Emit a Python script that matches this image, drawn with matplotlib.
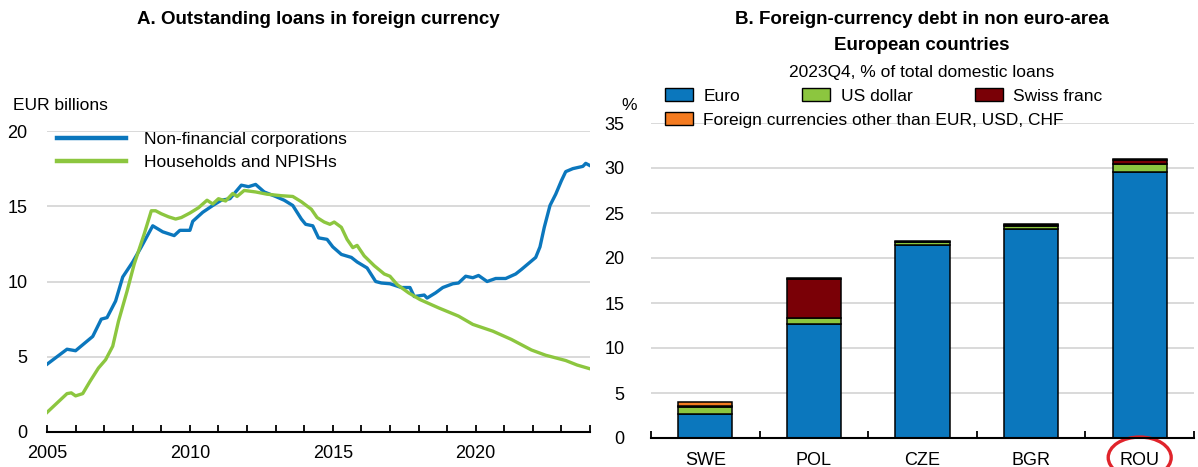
import matplotlib
matplotlib.use("Agg")
import matplotlib.pyplot as plt
import matplotlib.transforms as mtransforms
from matplotlib.lines import Line2D
from matplotlib.patches import Patch, Ellipse

plt.rcParams["font.family"] = ["Liberation Sans Narrow", "Liberation Sans", "DejaVu Sans"]

# Panel A: outstanding loans in foreign currency, EUR billions
nfc_years = [2005.0, 2005.7, 2006.0, 2006.6, 2006.9, 2007.1, 2007.4, 2007.65, 2008.0, 2008.3,
             2008.7, 2009.05, 2009.45, 2009.65, 2010.0, 2010.1, 2010.45, 2010.8, 2011.1, 2011.4,
             2011.8, 2012.05, 2012.3, 2012.6, 2013.0, 2013.3, 2013.6, 2013.9, 2014.05, 2014.3,
             2014.5, 2014.8, 2015.0, 2015.3, 2015.65, 2015.85, 2016.2, 2016.5, 2016.7, 2017.0,
             2017.4, 2017.7, 2017.85, 2018.2, 2018.3, 2018.6, 2018.85, 2019.2, 2019.4, 2019.65,
             2019.9, 2020.1, 2020.4, 2020.7, 2021.05, 2021.4, 2021.6, 2021.85, 2022.1, 2022.25,
             2022.4, 2022.6, 2022.8, 2023.0, 2023.15, 2023.4, 2023.75, 2023.85, 2024.0]
nfc_values = [4.5, 5.5, 5.4, 6.35, 7.5, 7.6, 8.7, 10.3, 11.3, 12.3,
              13.7, 13.3, 13.05, 13.4, 13.4, 14.0, 14.6, 15.05, 15.4, 15.5,
              16.4, 16.3, 16.45, 15.95, 15.65, 15.4, 15.05, 14.15, 13.8, 13.7,
              12.9, 12.8, 12.3, 11.8, 11.6, 11.3, 10.9, 10.0, 9.9, 9.85,
              9.6, 9.6, 9.0, 9.1, 8.9, 9.25, 9.6, 9.85, 9.9, 10.35,
              10.25, 10.4, 10.0, 10.2, 10.2, 10.5, 10.8, 11.2, 11.6, 12.3,
              13.6, 15.05, 15.8, 16.7, 17.3, 17.5, 17.65, 17.85, 17.7]

hh_years = [2005.0, 2005.7, 2005.85, 2006.0, 2006.25, 2006.5, 2006.8, 2007.05, 2007.3, 2007.5,
            2007.8, 2008.05, 2008.4, 2008.65, 2008.8, 2009.0, 2009.25, 2009.5, 2009.7, 2010.0,
            2010.3, 2010.6, 2010.8, 2011.0, 2011.25, 2011.5, 2011.65, 2011.9, 2012.3, 2012.7,
            2013.2, 2013.6, 2013.9, 2014.25, 2014.45, 2014.7, 2014.9, 2015.05, 2015.3, 2015.5,
            2015.7, 2015.85, 2016.1, 2016.45, 2016.8, 2017.0, 2017.25, 2017.65, 2018.05, 2018.7,
            2019.4, 2019.9, 2020.6, 2021.25, 2021.95, 2022.45, 2023.15, 2023.55, 2024.0]
hh_values = [1.3, 2.55, 2.6, 2.4, 2.55, 3.35, 4.25, 4.8, 5.7, 7.35,
             9.35, 11.15, 13.15, 14.7, 14.7, 14.5, 14.3, 14.15, 14.25, 14.55,
             14.9, 15.4, 15.15, 15.5, 15.35, 15.85, 15.65, 16.05, 15.95, 15.8,
             15.7, 15.65, 15.3, 14.8, 14.25, 13.95, 13.8, 13.95, 13.6, 12.8,
             12.25, 12.4, 11.7, 11.05, 10.5, 10.35, 9.8, 9.25, 8.8, 8.25,
             7.7, 7.15, 6.7, 6.15, 5.45, 5.1, 4.75, 4.45, 4.2]

# Panel B: foreign-currency debt, 2023Q4, % of total domestic loans
countries = ["SWE", "POL", "CZE", "BGR", "ROU"]
euro = [2.7, 12.7, 21.4, 23.2, 29.6]
usd = [0.8, 0.6, 0.35, 0.4, 0.8]
chf = [0.05, 4.4, 0.05, 0.1, 0.5]
other = [0.5, 0.1, 0.05, 0.05, 0.1]

BLUE = "#0B77BD"
GREEN = "#8CC63F"
DARKRED = "#7A0006"
ORANGE = "#F47B20"
GRID = "#D9D9D9"

W, H = 1198, 467
fig = plt.figure(figsize=(W / 100, H / 100), dpi=100)


def box(left, top, right, bottom):
    return [left / W, 1 - bottom / H, (right - left) / W, (bottom - top) / H]


def style_axes(ax):
    for side in ["left", "right", "top"]:
        ax.spines[side].set_visible(False)
    ax.spines["bottom"].set_linewidth(1.5)
    ax.spines["bottom"].set_color("black")
    ax.yaxis.grid(True, color=GRID, linewidth=1.4)
    ax.set_axisbelow(True)
    ax.tick_params(axis="y", length=0, labelsize=13)
    ax.tick_params(axis="x", which="both", direction="in", length=5, width=1.3, labelsize=13)


# ---- Panel A ----
ax1 = fig.add_axes(box(47, 131, 590, 432))
style_axes(ax1)
ax1.plot(nfc_years, nfc_values, color=BLUE, linewidth=2.4)
ax1.plot(hh_years, hh_values, color=GREEN, linewidth=2.4)
ax1.set_xlim(2005, 2024)
ax1.set_ylim(0, 20)
ax1.set_yticks(range(0, 21, 5))
ax1.set_xticks([2005, 2010, 2015, 2020])
ax1.set_xticks(range(2005, 2025), minor=True)
ax1.tick_params(axis="y", pad=14)
ax1.tick_params(axis="x", pad=9)

handles_a = [Line2D([], [], color=BLUE, linewidth=3.2), Line2D([], [], color=GREEN, linewidth=3.2)]
ax1.legend(handles_a, ["Non-financial corporations", "Households and NPISHs"],
           loc="upper left", bbox_to_anchor=(57 / W, 1 - 132 / H), bbox_transform=fig.transFigure,
           frameon=False, fontsize=12.5, borderpad=0, borderaxespad=0,
           handlelength=4.0, handletextpad=1.0, labelspacing=0.45)

fig.text(13 / W, 1 - 106 / H, "EUR billions", fontsize=12.5, va="center", ha="left")
fig.text(318 / W, 1 - 20 / H, "A. Outstanding loans in foreign currency",
         fontsize=13.5, fontweight="bold", ha="center", va="center")

# ---- Panel B ----
ax2 = fig.add_axes(box(651, 123, 1194, 438))
style_axes(ax2)
x = list(range(len(countries)))
bottom = [0.0] * len(countries)
for vals, col in [(euro, BLUE), (usd, GREEN), (chf, DARKRED), (other, ORANGE)]:
    ax2.bar(x, vals, width=0.5, bottom=bottom, color=col, edgecolor="black", linewidth=1.1)
    bottom = [b + v for b, v in zip(bottom, vals)]
ax2.set_xlim(-0.5, len(countries) - 0.5)
ax2.set_ylim(0, 35)
ax2.set_yticks(range(0, 36, 5))
ax2.set_xticks(x)
ax2.set_xticklabels(countries)
ax2.set_xticks([i - 0.5 for i in range(len(countries) + 1)], minor=True)
ax2.tick_params(axis="x", which="major", length=0, pad=10)
ax2.tick_params(axis="y", pad=19)

trans = mtransforms.blended_transform_factory(ax2.transData, ax2.transAxes)
ax2.add_patch(Ellipse((x[countries.index("ROU")], -0.062), 0.58, 0.13, transform=trans,
                      fill=False, edgecolor="#E0242B", linewidth=2.4, clip_on=False))

patch_kw = dict(edgecolor="black", linewidth=1.0)
leg_top = ax2.legend([Patch(facecolor=BLUE, **patch_kw), Patch(facecolor=GREEN, **patch_kw),
                      Patch(facecolor=DARKRED, **patch_kw)],
                     ["Euro", "US dollar", "Swiss franc"], ncol=3,
                     loc="upper left", bbox_to_anchor=(665 / W, 1 - 88 / H), bbox_transform=fig.transFigure,
                     frameon=False, fontsize=12.5, borderpad=0, borderaxespad=0,
                     handlelength=1.6, handleheight=0.8, handletextpad=0.6, columnspacing=3.6)
ax2.add_artist(leg_top)
ax2.legend([Patch(facecolor=ORANGE, **patch_kw)], ["Foreign currencies other than EUR, USD, CHF"],
           loc="upper left", bbox_to_anchor=(665 / W, 1 - 112 / H), bbox_transform=fig.transFigure,
           frameon=False, fontsize=12.5, borderpad=0, borderaxespad=0,
           handlelength=1.6, handleheight=0.8, handletextpad=0.6)

fig.text(629 / W, 1 - 106 / H, "%", fontsize=12.5, ha="center", va="center")
fig.text(922 / W, 1 - 20 / H, "B. Foreign-currency debt in non euro-area",
         fontsize=13.5, fontweight="bold", ha="center", va="center")
fig.text(922 / W, 1 - 46 / H, "European countries",
         fontsize=13.5, fontweight="bold", ha="center", va="center")
fig.text(922 / W, 1 - 72 / H, "2023Q4, % of total domestic loans",
         fontsize=12.5, ha="center", va="center")

fig.savefig("out.png", dpi=100)
